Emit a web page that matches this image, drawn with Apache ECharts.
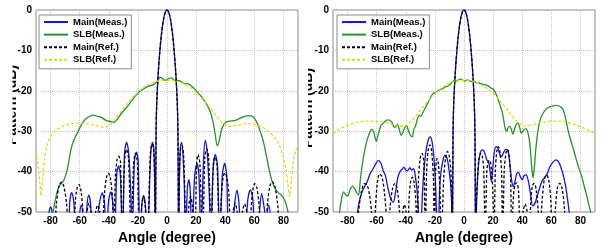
<!DOCTYPE html>
<html>
<head>
<meta charset="utf-8">
<script src="https://cdn.jsdelivr.net/npm/echarts@6.0.0/dist/echarts.min.js"></script>
<style>
html,body{margin:0;padding:0;background:#fff;}
#chart{width:602px;height:250px;}
</style>
</head>
<body>
<div id="chart"></div>
<script>
// names / ticks
var seriesNames = ['Main(Meas.)', 'SLB(Meas.)', 'Main(Ref.)', 'SLB(Ref.)'];
var angleTicks = [-80, -60, -40, -20, 0, 20, 40, 60, 80];

// ---- left plot: [angle, dB] ----
var mainMeasL = [[-90,-60],[-84,-58],[-81.5,-51],[-80,-48.7],[-78.5,-51],[-77,-58],
	[-68.5,-58],[-66.8,-47.5],[-65.5,-45.2],[-64,-47.5],[-62.5,-58],
	[-60.3,-51],[-59,-48.3],[-57.7,-51],[-56.3,-58],
	[-55,-48.5],[-53.8,-45.8],[-52.5,-48],[-51,-58],
	[-46.2,-47.5],[-44.6,-45.3],[-43,-47.5],[-41.7,-58],
	[-40.2,-47.5],[-38.6,-45],[-37.2,-48],[-36,-58],
	[-34.6,-41],[-33.3,-38.6],[-32,-41],[-30.6,-58],
	[-29.2,-35.5],[-27.8,-32.8],[-26.4,-35],[-24.8,-46],[-24,-58],
	[-22.4,-37.5],[-21,-35.2],[-19.8,-37.5],[-18.6,-58],
	[-17.2,-48],[-16,-46],[-14.8,-48.5],[-13.5,-58],
	[-11.3,-36.5],[-10,-32.8],[-9.1,-34],[-8.5,-42],
	[-8,-58],[-7.5,-30],[-7,-22.5],[-6,-15.5],[-5,-10.5],[-4,-6.6],[-3,-3.7],[-2,-1.6],[-1,-0.4],[0,0],
	[1,-0.4],[2,-1.6],[3,-3.7],[4,-6.6],[5,-10.5],[6,-15.5],[7,-22.5],[7.5,-30],[8,-58],
	[8.5,-42],[9.2,-34],[10,-32.8],[11,-36],[12,-45],[12.7,-58],
	[14,-44],[15,-42],[16,-45],[17,-58],
	[19,-41],[20.6,-38],[22,-41.5],[23.3,-58],
	[25,-38],[26.3,-32.3],[27.6,-35],[29.2,-47],[30,-58],
	[31.6,-40],[33.2,-35.8],[34.7,-38.5],[36.2,-58],
	[38,-41],[39.6,-38],[41,-41],[42.5,-58],
	[44,-58],[46.5,-48],[48,-44.6],[49.5,-48],[51,-58],
	[53,-58],[55.5,-47],[57.3,-44.5],[59,-47],[60.5,-58],
	[63,-52],[65,-45.4],[66.8,-49],[68,-52],[69.8,-48.3],[71.5,-52],[73,-60],[90,-60]];

var slbMeasL = [[-90,-62],[-81,-58],[-79,-51.5],[-77.5,-48.5],[-75.5,-45],[-73.5,-43.3],[-72,-42.8],
	[-70.5,-41.8],[-68.5,-39.5],[-67,-36.5],[-65.5,-33.8],[-63.5,-31.8],[-61,-30],[-58.5,-28.2],
	[-56,-27],[-53,-26.3],[-50.5,-26],[-48,-26.3],[-45,-26.6],[-42,-27.3],[-39,-27.6],[-36.5,-27.8],
	[-34.5,-27.2],[-32.5,-26.2],[-30,-25],[-27,-23.8],[-24,-22.3],[-21,-21],[-18,-20],[-15,-19.3],
	[-12,-18.8],[-9,-18.4],[-7,-17.8],[-5.5,-17],[-4.5,-16.6],[-3,-17],[-1.5,-17.4],[0,-17.3],
	[1.5,-16.9],[3,-16.8],[4.5,-17.3],[6,-17.6],[8,-17.4],[10,-17.8],[12,-18.2],[14,-18.2],
	[16,-18.6],[18,-19.2],[20,-20],[22,-20.8],[24,-21.6],[26,-22.6],[28,-23.8],[30,-25.5],
	[31.8,-28],[33.2,-31],[34.5,-33.6],[35.8,-32.5],[37.2,-30],[38.8,-28.5],[40.5,-27.8],[43,-27.5],
	[46,-27.4],[49,-27],[52,-26.5],[55,-26.2],[58,-26.2],[60.5,-27],[62.5,-28.5],[64.5,-30.5],
	[66.5,-33],[68.5,-36.5],[70.5,-40],[72.5,-42.8],[74.5,-44.3],[76.5,-45.2],[78.5,-45.8],
	[80.5,-46.8],[82.5,-49],[84,-52],[86,-58],[90,-62]];

var mainRefL = [[-90,-60],[-78.5,-58],[-76,-48],[-74.2,-43.5],[-72.5,-42.6],[-70.8,-43.8],[-69,-48],[-67,-58],
	[-64,-58],[-63,-47.5],[-61.6,-43.8],[-60.4,-43.2],[-59,-45],[-57.5,-51],[-56.5,-58],
	[-55,-50],[-53.6,-47.8],[-52.2,-50],[-50.8,-58],
	[-49,-50],[-47.6,-48.3],[-46.2,-50],[-44.8,-58],
	[-43,-45.5],[-41.6,-41.5],[-40.2,-40.4],[-38.8,-41.8],[-37.4,-47],[-36.6,-58],
	[-35.5,-41.5],[-34.3,-37],[-33.2,-36.2],[-32,-37.5],[-30.6,-58],
	[-29.2,-37.5],[-27.8,-34.5],[-26.4,-36.8],[-24.6,-58],
	[-23,-38.5],[-21.7,-35.5],[-20.4,-37.5],[-19,-58],
	[-17.4,-48.5],[-16.2,-46],[-15,-48.5],[-13.5,-58],
	[-11.5,-36],[-10.3,-33.2],[-9.2,-34.5],[-8.5,-42],
	[-8,-58],[-7.5,-30],[-7,-22.5],[-6,-15.5],[-5,-10.5],[-4,-6.6],[-3,-3.7],[-2,-1.6],[-1,-0.4],[0,0],
	[1,-0.4],[2,-1.6],[3,-3.7],[4,-6.6],[5,-10.5],[6,-15.5],[7,-22.5],[7.5,-30],[8,-58],
	[8.5,-42],[9.3,-34.5],[10.3,-33.6],[11.5,-36.5],[13.4,-58],
	[15,-48.5],[16.2,-46.2],[17.4,-48.5],[19,-58],
	[20.4,-37.8],[21.3,-35.8],[22.6,-38.2],[24.4,-58],
	[26,-36.5],[27.3,-34.4],[28.6,-36.5],[30.4,-58],
	[31.8,-38],[33,-36.4],[34.3,-38],[36.3,-58],
	[37.4,-46],[38.6,-41.3],[39.8,-40.3],[41.2,-41.5],[42.6,-46],[43.6,-58],
	[45.4,-50],[46.8,-47.8],[48.2,-50],[50,-58],
	[51.8,-50],[53.3,-48],[54.8,-50],[56.4,-58],
	[57.4,-51],[58.8,-45],[60.2,-43],[61.6,-43.8],[63.2,-48],[64.8,-58],
	[67,-58],[69,-48],[70.7,-43.6],[72.3,-42.5],[74,-43.5],[76,-48],[78.5,-58],[90,-60]];

var slbRefL = [[-90,-35],[-88.5,-38.5],[-87.3,-43],[-86.5,-46],[-85.5,-42],[-84,-36.5],[-82,-33],
	[-80,-31.3],[-77,-30],[-73,-29],[-69,-28.4],[-65,-28.1],[-60,-28],[-55,-28.1],[-50,-28.5],
	[-46,-28.9],[-42.5,-29],[-39.5,-28.5],[-36.5,-27.4],[-33,-25.8],[-29,-24],[-25,-22.2],[-21,-20.7],
	[-17,-19.4],[-13,-18.5],[-9,-17.9],[-5,-17.5],[0,-17.4],[5,-17.5],[9,-17.9],[13,-18.5],[17,-19.4],
	[21,-20.7],[25,-22.2],[29,-24],[33,-25.8],[36.5,-27.3],[39.5,-28.3],[42.5,-28.8],[46,-28.7],
	[50,-28.4],[55,-28.1],[60,-28.3],[65,-28.9],[69,-29.8],[73,-31.2],[76.5,-33],[79.5,-35.8],
	[81.5,-39],[83,-43],[84.2,-46.2],[85.5,-42],[87,-37],[88.5,-34.8],[90,-33.8]];

// ---- right plot: [angle, dB] ----
var mainMeasR = [[-90,-60],[-75,-58],[-73.5,-51],[-72,-47.5],[-70,-45],[-68,-43.5],[-66.5,-42.5],
	[-64.5,-40.5],[-62.5,-39.3],[-60.5,-38],[-58.7,-37.2],[-57,-38],[-55.5,-39.8],[-54,-41],
	[-52.3,-44],[-50.5,-46.5],[-48.6,-47.6],[-47,-45],[-45.5,-41.5],[-44,-40],[-42.5,-39.4],
	[-41.3,-38.9],[-40,-39.6],[-38.8,-39.8],[-37.2,-39],[-36,-39.6],[-34.7,-39.3],[-33.5,-41],
	[-32.2,-45],[-31,-52],[-30,-58],[-28.5,-45],[-27,-37.5],[-25.6,-33.8],[-24.2,-31.8],
	[-23.2,-31.4],[-22,-32.5],[-20.8,-36],[-19.7,-42],[-18.7,-52],[-17.8,-58],[-16.8,-45],
	[-15.8,-40],[-14.6,-37.5],[-13.2,-36],[-12,-36.3],[-10.9,-38],[-10,-40.5],[-9.2,-43],[-8.5,-48],
	[-8,-58],[-7.5,-30],[-7,-22.5],[-6,-15.5],[-5,-10.5],[-4,-6.6],[-3,-3.7],[-2,-1.6],[-1,-0.4],[0,0],
	[1,-0.4],[2,-1.6],[3,-3.7],[4,-6.6],[5,-10.5],[6,-15.5],[7,-22.5],[7.5,-30],[8,-58],
	[8.5,-50],[9.3,-42],[10.2,-37.5],[11.3,-35.2],[12.5,-34.6],[13.5,-34.8],[14.6,-35.8],
	[15.8,-37.2],[16.8,-37.5],[17.8,-39.5],[18.8,-42.5],[19.8,-39],[20.8,-35.2],[22,-33.8],
	[23.2,-34.2],[24.4,-35.5],[25.8,-36.3],[27.2,-35.3],[28.6,-34.5],[30,-34.6],[31.3,-37.5],
	[32.5,-41.5],[33.8,-43.7],[35,-42.5],[36.2,-40.5],[37.4,-40.2],[38.6,-41.2],[40,-42],
	[41.3,-41],[42.6,-40.8],[44,-42],[45.5,-45],[47.2,-48.5],[48.8,-47.8],[50.3,-46],[52,-44],
	[53.8,-42.2],[55.5,-41.5],[57.2,-40.5],[59,-38.8],[61,-37.7],[63.2,-37.1],[65,-37.6],
	[66.6,-39],[68,-40.6],[69.5,-43],[71,-46.5],[72.2,-50],[73.5,-58],[90,-60]];

var slbMeasR = [[-90,-62],[-87,-58],[-85.5,-50],[-84,-46.5],[-82.7,-45],[-81.2,-45.8],[-79.8,-46],
	[-78.3,-44.5],[-76.6,-43.6],[-75,-44.3],[-73.6,-45.3],[-72.4,-45.8],[-71.2,-42],[-70,-38.5],
	[-68.6,-35.5],[-67.2,-33],[-65.8,-31.3],[-64.4,-30],[-63.2,-29.5],[-62,-30.3],[-60.2,-32.5],
	[-59,-30.8],[-58,-29.6],[-57,-28.5],[-55.5,-28],[-54,-27.5],[-52.5,-27.2],[-51,-27.3],
	[-49.5,-27.8],[-48.2,-28.9],[-47,-29],[-45.7,-28.3],[-44.5,-29.5],[-43.2,-31],[-42,-30.3],
	[-40.8,-29.2],[-39.5,-28.6],[-38.2,-29.8],[-36.8,-31],[-35.6,-31.4],[-34.4,-29.5],[-33.2,-28.6],
	[-32,-27],[-30.8,-26],[-29.6,-26.3],[-28.4,-25.5],[-27,-24.5],[-25.6,-23.5],[-24.2,-22.6],
	[-22.8,-21.5],[-21.4,-20.7],[-20,-20.5],[-18.6,-20.2],[-17.2,-19.8],[-15.6,-19.6],[-14,-19.3],
	[-12.4,-19],[-10.8,-18.8],[-9.2,-18.3],[-7.6,-17.7],[-6.2,-17.3],[-4.8,-17.6],[-3.5,-17.2],
	[-2.2,-17.1],[-0.8,-17.4],[0.6,-17.6],[2,-17.3],[3.5,-17.5],[5,-17.7],[6.5,-17.6],[8,-17.9],
	[9.5,-18],[11,-18.2],[12.5,-18.3],[14,-18.5],[15.5,-18.6],[17,-18.9],[18.5,-19.3],[20,-19.6],
	[21.5,-20.4],[22.8,-21.5],[24,-22.8],[25.2,-24],[26.4,-25.5],[27.4,-27.5],[28.4,-29.5],
	[29.3,-30.1],[30.2,-29.2],[31.4,-28.8],[32.5,-29.5],[33.6,-30.8],[34.7,-29.5],[35.8,-28.4],
	[37,-28],[38.2,-29],[39.4,-30.5],[40.6,-30],[41.8,-29.4],[43,-29.5],[44.2,-30.8],[45.2,-33],
	[46,-36.5],[46.8,-40],[47.5,-41.5],[48.3,-39],[49.2,-35],[50.2,-31.5],[51.3,-28.8],[52.5,-27],
	[54,-25.8],[55.5,-24.9],[57.2,-24.3],[59,-24],[61,-23.8],[63,-23.6],[65,-23.7],[66.5,-24],
	[68,-24.6],[69.3,-26],[70.6,-28.3],[72,-30.5],[73.5,-32.5],[75,-34.2],[76.5,-36.2],[78,-38],
	[79.5,-39.8],[81,-41.3],[82.5,-43.5],[84,-45.5],[85.5,-47.8],[87,-50],[88.5,-53],[90,-56]];

var mainRefR = [[-90,-60],[-75,-58],[-72.5,-50],[-70.5,-45],[-68.5,-43],[-66.6,-43.3],[-64.8,-46],[-63,-52],[-62,-58],
	[-61,-50],[-59.6,-43],[-58,-40.6],[-56.4,-41.2],[-54.7,-45],[-53.2,-52],[-52.4,-58],
	[-50.8,-49],[-49,-44],[-47.4,-42.9],[-45.8,-44.5],[-44.3,-50],[-43.5,-58],
	[-42.4,-51],[-41,-48.2],[-39.7,-50.5],[-38.7,-58],
	[-37.8,-47],[-36.6,-42.3],[-35.5,-41.4],[-34.3,-42.8],[-33,-48],[-32.2,-58],
	[-31.3,-42],[-30,-36.5],[-28.8,-35.5],[-27.6,-37.5],[-26.6,-58],
	[-25.7,-40],[-24.5,-34.5],[-23.4,-33.4],[-22.2,-35],[-21,-42],[-20.3,-58],
	[-19.6,-41],[-18.6,-36.8],[-17.6,-38],[-16.5,-45],[-15.6,-58],
	[-14,-42],[-12.6,-36.5],[-11.3,-35],[-10.1,-36.2],[-9,-40],[-8.4,-48],
	[-8,-58],[-7.5,-30],[-7,-22.5],[-6,-15.5],[-5,-10.5],[-4,-6.6],[-3,-3.7],[-2,-1.6],[-1,-0.4],[0,0],
	[1,-0.4],[2,-1.6],[3,-3.7],[4,-6.6],[5,-10.5],[6,-15.5],[7,-22.5],[7.5,-30],[8,-58],
	[8.4,-48],[9.2,-42],[10.2,-37],[11.5,-35.5],[12.6,-36.2],[13.6,-40],[14.6,-58],
	[15.6,-40.5],[16.6,-37.5],[17.7,-37.2],[18.8,-39.5],[19.8,-45],[20.6,-58],
	[21.5,-40],[22.6,-34.8],[23.6,-33.8],[24.6,-35],[25.8,-40],[26.6,-58],
	[27.6,-40],[28.8,-35.5],[29.8,-34.5],[30.9,-35.8],[32,-41],[32.8,-58],
	[33.8,-47],[35,-43.2],[36.3,-42.8],[37.5,-45],[38.7,-58],
	[40.6,-50],[42,-48],[43.4,-50],[45,-58],
	[45.8,-48],[47,-43.5],[48.3,-42.9],[49.6,-44.5],[51,-50],[52,-58],
	[53.5,-48],[55.2,-41.8],[56.7,-40.8],[58.2,-42],[59.6,-47],[60.8,-58],
	[62.6,-50],[64.2,-44],[65.8,-42.9],[67.4,-44.2],[69,-49],[70.5,-58],[90,-60]];

var slbRefR = [[-90,-30.5],[-86,-29.6],[-82,-28.8],[-78,-28.2],[-74,-27.8],[-70,-27.6],[-66,-27.5],
	[-62,-27.5],[-58,-27.6],[-54,-27.9],[-50,-28.3],[-46,-28.7],[-42,-28.8],[-39,-28.4],[-36,-27.4],
	[-33,-26.2],[-30,-24.8],[-27,-23.5],[-24,-22.2],[-21,-21],[-18,-20],[-15,-19.2],[-12,-18.5],
	[-9,-18],[-6,-17.6],[-3,-17.4],[0,-17.4],[3,-17.4],[6,-17.6],[9,-18],[12,-18.5],[15,-19.2],
	[18,-20],[21,-21],[24,-22.2],[27,-23.5],[30,-24.8],[33,-26.2],[36,-27.4],[39,-28.3],[42,-28.7],
	[46,-28.5],[50,-28.1],[54,-27.8],[58,-27.6],[62,-27.5],[66,-27.5],[70,-27.7],[74,-28.1],
	[78,-28.6],[82,-29.2],[86,-29.8],[90,-30.5]];

var FONT = "'Liberation Sans', Arial, sans-serif";
var colors = ['#1414e6', '#22922a', '#000000', '#dada1c'];

function lineSeries(idx, data, k) {
	return {
		name: seriesNames[k],
		type: 'line',
		xAxisIndex: idx,
		yAxisIndex: idx,
		data: data,
		symbol: 'none',
		smooth: 0.3,
		clip: true,
		animation: false,
		lineStyle: {
			color: colors[k],
			width: 1.3,
			type: (k >= 2) ? [3, 2] : 'solid'
		},
		itemStyle: {color: colors[k]}
	};
}

function xAxisFor(idx) {
	return {
		gridIndex: idx,
		type: 'value',
		min: -90,
		max: 90,
		name: 'Angle (degree)',
		nameLocation: 'middle',
		nameGap: 17,
		nameTextStyle: {fontFamily: FONT, fontWeight: 'bold', fontSize: 14, color: '#000'},
		axisLine: {show: false},
		axisTick: {show: false, customValues: angleTicks},
		axisLabel: {customValues: angleTicks, margin: 4, fontFamily: FONT, fontWeight: 'bold', fontSize: 10, color: '#000'},
		splitLine: {show: true, lineStyle: {color: '#c4c4c4', type: 'dotted', width: 1}}
	};
}

function yAxisFor(idx) {
	return {
		gridIndex: idx,
		type: 'value',
		min: -50,
		max: 0,
		interval: 10,
		axisLine: {show: false},
		axisTick: {show: false},
		axisLabel: {margin: 4, fontFamily: FONT, fontWeight: 'bold', fontSize: 10, color: '#000'},
		splitLine: {show: true, lineStyle: {color: '#c4c4c4', type: 'dotted', width: 1}}
	};
}

function legendFor(left) {
	return {
		left: left,
		top: 15,
		orient: 'vertical',
		data: seriesNames,
		selectedMode: false,
		backgroundColor: '#fff',
		borderColor: '#8a8a8a',
		borderWidth: 1,
		borderRadius: 0,
		padding: [2, 4, 4, 4],
		itemWidth: 24,
		itemHeight: 10,
		itemGap: 2.6,
		itemStyle: {opacity: 0},
		textStyle: {fontFamily: FONT, fontWeight: 'bold', fontSize: 9.5, color: '#000'}
	};
}

var dom = document.getElementById('chart');
var myChart = echarts.init(dom, null, {renderer: 'canvas'});
var option = null;
option = {
	backgroundColor: '#fff',
	grid: [
		{left: 36, top: 10, width: 262, height: 202, show: true, borderColor: '#8a8a8a', borderWidth: 1, backgroundColor: 'transparent'},
		{left: 333, top: 10, width: 262, height: 202, show: true, borderColor: '#8a8a8a', borderWidth: 1, backgroundColor: 'transparent'}
	],
	xAxis: [xAxisFor(0), xAxisFor(1)],
	yAxis: [yAxisFor(0), yAxisFor(1)],
	legend: [legendFor(39), legendFor(337)],
	series: [
		lineSeries(0, mainMeasL, 0),
		lineSeries(0, slbMeasL, 1),
		lineSeries(0, mainRefL, 2),
		lineSeries(0, slbRefL, 3),
		lineSeries(1, mainMeasR, 0),
		lineSeries(1, slbMeasR, 1),
		lineSeries(1, mainRefR, 2),
		lineSeries(1, slbRefR, 3)
	],
	graphic: [
		// y axis titles, clipped on their left side like in the source figure
		{type: 'text', x: 12, y: 105, rotation: Math.PI / 2, z: 10,
			style: {text: 'Pattern (dB)', font: 'bold 14px ' + FONT, fill: '#000', align: 'center', verticalAlign: 'middle'}},
		{type: 'text', x: 308, y: 108, rotation: Math.PI / 2, z: 10,
			style: {text: 'Pattern (dB)', font: 'bold 14px ' + FONT, fill: '#000', align: 'center', verticalAlign: 'middle'}},
		{type: 'rect', z: 20, shape: {x: 0, y: 40, width: 12.5, height: 140}, style: {fill: '#fff'}},
		{type: 'rect', z: 20, shape: {x: 299, y: 40, width: 9, height: 140}, style: {fill: '#fff'}}
	]
};
if (option && typeof option === 'object') {
	myChart.setOption(option, true);
}
</script>
</body>
</html>
